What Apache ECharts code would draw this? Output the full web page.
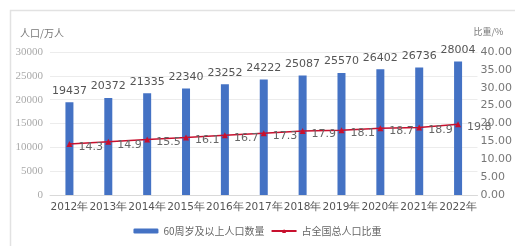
<!DOCTYPE html>
<html>
<head>
<meta charset="utf-8">
<script src="https://cdn.jsdelivr.net/npm/echarts@6/dist/echarts.min.js"></script>
<style>
  html, body { margin: 0; padding: 0; background: #fff; }
  #main { width: 515px; height: 246px; }
</style>
</head>
<body>
<div id="main"></div>
<script>
// 数据
var years = ['2012年', '2013年', '2014年', '2015年', '2016年', '2017年', '2018年', '2019年', '2020年', '2021年', '2022年'];
var elderly = [19437, 20372, 21335, 22340, 23252, 24222, 25087, 25570, 26402, 26736, 28004];
var ratio = [14.3, 14.9, 15.5, 16.1, 16.7, 17.3, 17.9, 18.1, 18.7, 18.9, 19.8];

var myChart = echarts.init(document.getElementById('main'));
var option = {
    animation: false,
    graphic: [{
        type: 'rect',
        shape: { x: 10.5, y: 10.5, width: 520, height: 250 },
        style: { fill: 'none', stroke: '#e2e2e2', lineWidth: 1.5 }
    }],
    legend: {
        bottom: 5,
        left: 'center',
        itemWidth: 25,
        itemHeight: 5,
        itemGap: 6,
        textStyle: { color: '#666', fontSize: 10, fontFamily: 'Noto Sans CJK SC' },
        data: ['60周岁及以上人口数量', '占全国总人口比重']
    },
    grid: {
        left: 50,
        right: 35,
        top: 52,
        bottom: 51
    },
    xAxis: [{
        type: 'category',
        data: years,
        axisLine: { lineStyle: { color: '#d9d9d9' } },
        axisTick: { show: false },
        axisLabel: {
            color: '#555',
            fontSize: 10.5,
            fontFamily: 'DejaVu Sans',
            margin: 7,
            interval: 0
        }
    }],
    yAxis: [{
        type: 'value',
        name: '人口/万人',
        nameLocation: 'end',
        nameGap: 14,
        nameTextStyle: { color: '#777', fontSize: 10, align: 'left', padding: [0, 0, 0, -30], fontFamily: 'Noto Sans CJK SC' },
        min: 0,
        max: 30000,
        interval: 5000,
        axisLine: { show: false },
        axisTick: { show: false },
        axisLabel: {
            color: '#aaa',
            fontSize: 11,
            fontFamily: 'Liberation Serif',
            margin: 7,
            formatter: function (v) { return String(v); }
        },
        splitLine: { lineStyle: { color: '#ececec' } }
    }, {
        type: 'value',
        name: '比重/%',
        nameLocation: 'end',
        nameGap: 16,
        nameTextStyle: { color: '#777', fontSize: 9, align: 'left', padding: [0, 0, 0, -4], fontFamily: 'Noto Sans CJK SC' },
        min: 0,
        max: 40,
        interval: 5,
        axisLine: { show: false },
        axisTick: { show: false },
        axisLabel: {
            color: '#777',
            fontSize: 11,
            fontFamily: 'DejaVu Sans',
            margin: 3,
            formatter: function (v) { return v.toFixed(2); }
        },
        splitLine: { show: false }
    }],
    series: [{
        name: '60周岁及以上人口数量',
        type: 'bar',
        barWidth: 8,
        data: elderly,
        itemStyle: { color: '#4472c4' },
        label: {
            show: true,
            position: 'top',
            distance: 6,
            color: '#555',
            fontSize: 11,
            fontFamily: 'DejaVu Sans'
        }
    }, {
        name: '占全国总人口比重',
        type: 'line',
        yAxisIndex: 1,
        data: ratio,
        symbol: 'triangle',
        symbolSize: 6,
        lineStyle: { color: '#c8102e', width: 1.5 },
        itemStyle: { color: '#c8102e' },
        label: {
            show: true,
            position: 'right',
            distance: 6,
            offset: [0, 3],
            color: '#666',
            fontSize: 11,
            fontFamily: 'DejaVu Sans'
        }
    }]
};
myChart.setOption(option);
</script>
</body>
</html>
